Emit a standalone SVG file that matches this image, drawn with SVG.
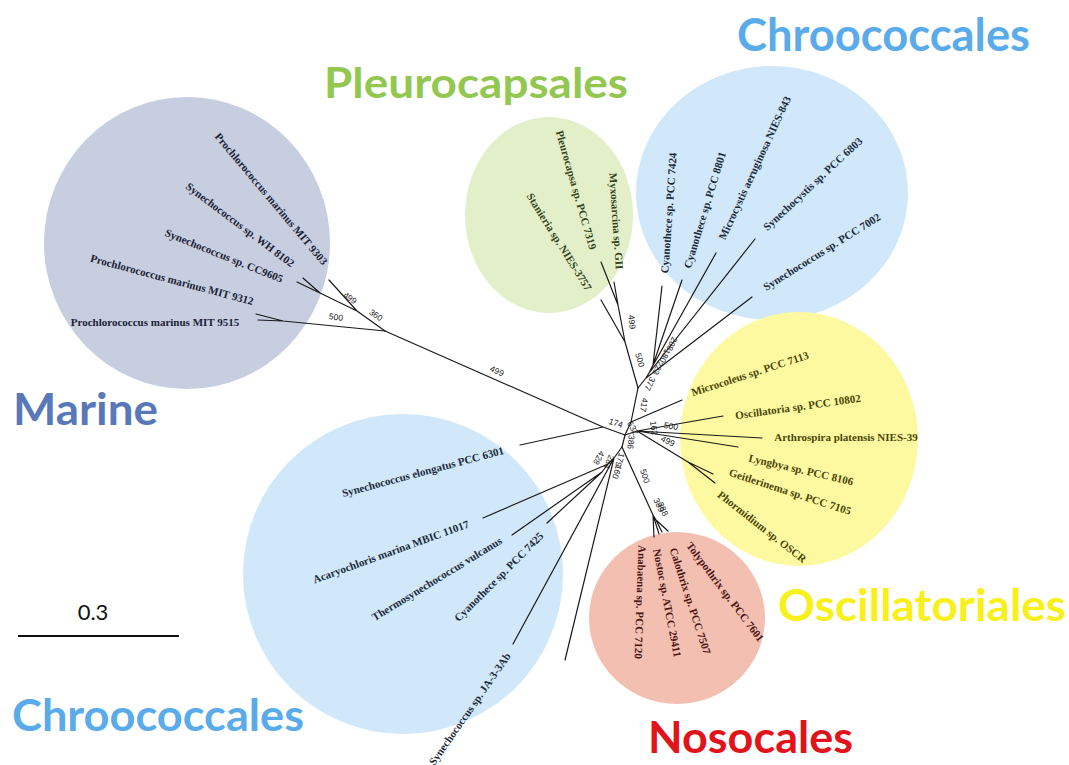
<svg xmlns="http://www.w3.org/2000/svg" width="1069" height="765" viewBox="0 0 1069 765">
<style>
.br{stroke:#1a1a1a;stroke-width:1.2;fill:none;stroke-linecap:round;stroke-linejoin:round}
.lf{font-family:"Liberation Serif","Times New Roman",serif;font-weight:bold;font-size:11px;text-anchor:middle}
.bs{font-family:"Liberation Sans",Arial,sans-serif;font-size:8.5px;fill:#222;text-anchor:middle}
.tt{font-family:Lato,"Open Sans","Liberation Sans",sans-serif;font-weight:bold}
.mar{fill:#1c2236}.ple{fill:#33431a}.chr{fill:#1b2a3a}.osc{fill:#4a4608}.nos{fill:#4a1414}
</style>
<rect width="1069" height="765" fill="#ffffff"/>
<g id="shades">
<ellipse id="shade-marine" cx="187" cy="243" rx="143" ry="146" fill="#c6cee0"/>
<ellipse id="shade-pleurocapsales" cx="549" cy="215" rx="84" ry="98" fill="#e2efc9"/>
<ellipse id="shade-chroococcales-top" cx="772" cy="193" rx="136" ry="127" fill="#d0e8f9"/>
<ellipse id="shade-oscillatoriales" cx="799" cy="439" rx="119" ry="127" fill="#fcf9a0"/>
<ellipse id="shade-nostocales" cx="677" cy="618" rx="88" ry="86" fill="#f2bfb1"/>
<ellipse id="shade-chroococcales-bottom" cx="403" cy="574" rx="160" ry="160" fill="#d0e8f9"/>
</g>
<g id="connectors" class="br">
<path d="M256,314 L283,321 M258,320 L283,321 M283,321 L385,331"/>
<path d="M303,278 L320,293 M297,282 L320,293 M320,293 L357,311 M329,280 L357,311 M357,311 L385,331"/>
<path d="M385,331 L603,427 M520,445 L603,427 L625,435"/>
<path d="M625,435 L631,422 L638,388 M631,422 L682,400"/>
<path d="M625,435 L637,431 M637,431 L723,416 M637,431 L762,438 M637,431 L738,447 M637,431 L688,462 M688,462 L713,474 M688,462 L715,483"/>
<path d="M638,388 L625,342 M625,342 L601,300 M625,342 L618,305 M618,305 L614,282 M618,305 L601,262"/>
<path d="M638,388 L646,378 M646,378 L752,297 M646,378 L649,373 M649,373 L755,239 M649,373 L651,369 M651,369 L716,253 M651,369 L653,365 M653,365 L682,280 M653,365 L662,286"/>
<path d="M625,435 L622,447 M622,447 L653,515 M653,515 L654,537 M653,515 L659,534 M653,515 L656,520 M656,520 L662,532 M656,520 L668,531"/>
<path d="M622,447 L614,458 M614,458 L565,660 M614,458 L513,644 M614,458 L608,464 M608,464 L483,518 M608,464 L602,472 M602,472 L512,535 M602,472 L547,523"/>
</g>
<g id="bootstrap">
<text class="bs" transform="translate(350,298) rotate(35)" y="3">499</text>
<text class="bs" transform="translate(376,315) rotate(35)" y="3">360</text>
<text class="bs" transform="translate(336,317) rotate(8)" y="3">500</text>
<text class="bs" transform="translate(497,371) rotate(24)" y="3">499</text>
<text class="bs" transform="translate(616,423) rotate(18)" y="3">174</text>
<text class="bs" transform="translate(644,405) rotate(100)" y="3">417</text>
<text class="bs" transform="translate(640,360) rotate(73)" y="3">500</text>
<text class="bs" transform="translate(632,322) rotate(83)" y="3">499</text>
<text class="bs" transform="translate(650,384) rotate(115)" y="3">377</text>
<text class="bs" transform="translate(658,368) rotate(115)" y="3">223</text>
<text class="bs" transform="translate(665,356) rotate(115)" y="3">180</text>
<text class="bs" transform="translate(672,344) rotate(115)" y="3">208</text>
<text class="bs" transform="translate(633,428) rotate(60)" y="3">632</text>
<text class="bs" transform="translate(654,428) rotate(82)" y="3">162</text>
<text class="bs" transform="translate(671,426) rotate(8)" y="3">500</text>
<text class="bs" transform="translate(668,441) rotate(25)" y="3">499</text>
<text class="bs" transform="translate(631,442) rotate(95)" y="3">386</text>
<text class="bs" transform="translate(620,460) rotate(108)" y="3">179</text>
<text class="bs" transform="translate(609,462) rotate(112)" y="3">284</text>
<text class="bs" transform="translate(617,472) rotate(108)" y="3">160</text>
<text class="bs" transform="translate(599,458) rotate(120)" y="3">428</text>
<text class="bs" transform="translate(645,476) rotate(72)" y="3">500</text>
<text class="bs" transform="translate(659,505) rotate(65)" y="3">389</text>
<text class="bs" transform="translate(663,509) rotate(65)" y="3">388</text>
</g>
<g id="leaf-mit9303"><text class="lf mar" transform="translate(271,199) rotate(50)" y="3.5">Prochlorococcus marinus MIT 9303</text></g>
<g id="leaf-wh8102"><text class="lf mar" transform="translate(240,225) rotate(37)" y="3.5">Synechococcus sp. WH 8102</text></g>
<g id="leaf-cc9605"><text class="lf mar" transform="translate(224,256) rotate(22)" y="3.5">Synechococcus sp. CC9605</text></g>
<g id="leaf-mit9312"><text class="lf mar" transform="translate(172,280) rotate(15)" y="3.5">Prochlorococcus marinus MIT 9312</text></g>
<g id="leaf-mit9515"><text class="lf mar" transform="translate(155,322)" y="3.5">Prochlorococcus marinus MIT 9515</text></g>
<g id="leaf-pleurocapsa"><text class="lf ple" transform="translate(576,190) rotate(74)" y="3.5">Pleurocapsa sp. PCC 7319</text></g>
<g id="leaf-myxosarcina"><text class="lf ple" transform="translate(616,221) rotate(86)" y="3.5">Myxosarcina sp. GII</text></g>
<g id="leaf-stanieria"><text class="lf ple" transform="translate(559,242) rotate(58)" y="3.5">Stanieria sp. NIES-3757</text></g>
<g id="leaf-cyanothece7424"><text class="lf chr" transform="translate(669,213) rotate(-86)" y="3.5">Cyanothece sp. PCC 7424</text></g>
<g id="leaf-cyanothece8801"><text class="lf chr" transform="translate(705,210) rotate(-73)" y="3.5">Cyanothece sp. PCC 8801</text></g>
<g id="leaf-microcystis"><text class="lf chr" transform="translate(755,168) rotate(-65)" y="3.5">Microcystis aeruginosa NIES-843</text></g>
<g id="leaf-synechocystis"><text class="lf chr" transform="translate(813,184) rotate(-43)" y="3.5">Synechocystis sp. PCC 6803</text></g>
<g id="leaf-syn7002"><text class="lf chr" transform="translate(822,252) rotate(-32)" y="3.5">Synechococcus sp. PCC 7002</text></g>
<g id="leaf-microcoleus"><text class="lf osc" transform="translate(750,374) rotate(-18)" y="3.5">Microcoleus sp. PCC 7113</text></g>
<g id="leaf-oscillatoria"><text class="lf osc" transform="translate(798,407) rotate(-8)" y="3.5">Oscillatoria sp. PCC 10802</text></g>
<g id="leaf-arthrospira"><text class="lf osc" transform="translate(846,437)" y="3.5">Arthrospira platensis NIES-39</text></g>
<g id="leaf-lyngbya"><text class="lf osc" transform="translate(801,470) rotate(13)" y="3.5">Lyngbya sp. PCC 8106</text></g>
<g id="leaf-geitlerinema"><text class="lf osc" transform="translate(790,492) rotate(18)" y="3.5">Geitlerinema sp. PCC 7105</text></g>
<g id="leaf-phormidium"><text class="lf osc" transform="translate(762,527) rotate(38)" y="3.5">Phormidium sp. OSCR</text></g>
<g id="leaf-tolypothrix"><text class="lf nos" transform="translate(725,592) rotate(53)" y="3.5">Tolypothrix sp. PCC 7601</text></g>
<g id="leaf-calothrix"><text class="lf nos" transform="translate(690,601) rotate(72)" y="3.5">Calothrix sp. PCC 7507</text></g>
<g id="leaf-nostoc"><text class="lf nos" transform="translate(667,603) rotate(79)" y="3.5">Nostoc sp. ATCC 29411</text></g>
<g id="leaf-anabaena"><text class="lf nos" transform="translate(640,602) rotate(92)" y="3.5">Anabaena sp. PCC 7120</text></g>
<g id="leaf-elongatus"><text class="lf chr" transform="translate(423,472) rotate(-15)" y="3.5">Synechococcus elongatus PCC 6301</text></g>
<g id="leaf-acaryochloris"><text class="lf chr" transform="translate(391,552) rotate(-20)" y="3.5">Acaryochloris marina MBIC 11017</text></g>
<g id="leaf-thermosynechococcus"><text class="lf chr" transform="translate(437,579) rotate(-31.5)" y="3.5">Thermosynechococcus vulcanus</text></g>
<g id="leaf-cyanothece7425"><text class="lf chr" transform="translate(499,577) rotate(-45)" y="3.5">Cyanothece sp. PCC 7425</text></g>
<g id="leaf-ja33ab"><text class="lf chr" transform="translate(470,709) rotate(-55)" y="3.5">Synechococcus sp. JA-3-3Ab</text></g>
<g id="titles">
<text id="title-chroococcales-top" class="tt" x="737" y="51" font-size="46" fill="#5aabea" textLength="293" lengthAdjust="spacingAndGlyphs">Chroococcales</text>
<text id="title-pleurocapsales" class="tt" x="324" y="98" font-size="42" fill="#93c850" textLength="304" lengthAdjust="spacingAndGlyphs">Pleurocapsales</text>
<text id="title-marine" class="tt" x="13" y="425" font-size="44" fill="#5878b9" textLength="145" lengthAdjust="spacingAndGlyphs">Marine</text>
<text id="title-oscillatoriales" class="tt" x="778" y="621" font-size="44" fill="#f8f01a" textLength="288" lengthAdjust="spacingAndGlyphs">Oscillatoriales</text>
<text id="title-nosocales" class="tt" x="648" y="753" font-size="44" fill="#e0141a" textLength="205" lengthAdjust="spacingAndGlyphs">Nosocales</text>
<text id="title-chroococcales-bottom" class="tt" x="12" y="731" font-size="44" fill="#5aabea" textLength="292" lengthAdjust="spacingAndGlyphs">Chroococcales</text>
</g>
<g id="scale-bar">
<line x1="18" y1="636" x2="179" y2="636" stroke="#111" stroke-width="2"/>
<text x="93" y="620" font-family="Lato,'Liberation Sans',sans-serif" font-size="22" text-anchor="middle" fill="#111">0.3</text>
</g>
</svg>
